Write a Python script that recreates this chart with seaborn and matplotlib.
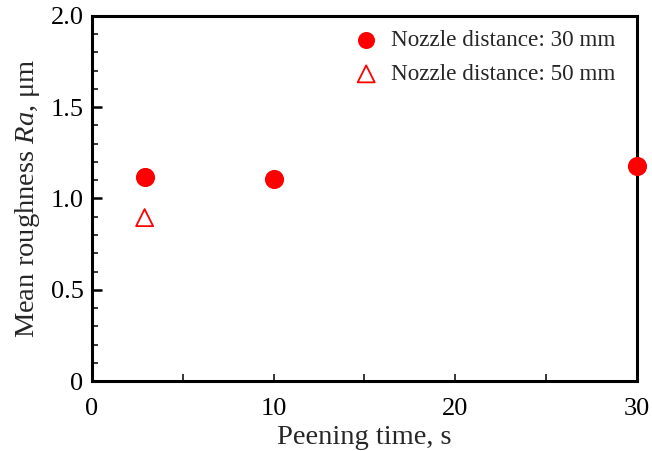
import matplotlib
matplotlib.use("Agg")
import matplotlib.pyplot as plt
from matplotlib.ticker import MultipleLocator, FixedLocator
import seaborn as sns
import pandas as pd

# Peening time (s) and mean roughness Ra (um) for each nozzle distance
time_30mm = [2.9, 10, 30]
ra_30mm = [1.12, 1.105, 1.175]
time_50mm = [2.9]
ra_50mm = [0.895]

label_30mm = "Nozzle distance: 30 mm"
label_50mm = "Nozzle distance: 50 mm"

x_ticks = [0, 10, 20, 30]
y_ticks = [0, 0.5, 1.0, 1.5, 2.0]
y_tick_labels = ["0", "0.5", "1.0", "1.5", "2.0"]

sns.set_theme(style="ticks")
plt.rcParams["font.family"] = ["Liberation Serif", "DejaVu Serif"]
plt.rcParams["mathtext.fontset"] = "custom"
plt.rcParams["mathtext.it"] = "Liberation Serif:italic"
plt.rcParams["mathtext.rm"] = "Liberation Serif"

df30 = pd.DataFrame({"t": time_30mm, "ra": ra_30mm})
df50 = pd.DataFrame({"t": time_50mm, "ra": ra_50mm})

fig, ax = plt.subplots(figsize=(6.52, 4.51), dpi=100)
fig.subplots_adjust(left=0.141, right=0.977, top=0.965, bottom=0.155)

sns.scatterplot(data=df30, x="t", y="ra", ax=ax, marker="o", s=190,
                color="#ff0000", edgecolor="#ff0000", linewidth=0,
                label=label_30mm, clip_on=False, zorder=5)
sns.scatterplot(data=df50, x="t", y="ra", ax=ax, marker="^", s=150,
                facecolor="none", edgecolor="#ff0000", linewidth=1.3,
                label=label_50mm, clip_on=False, zorder=5)

ax.set_xlim(0, 30)
ax.set_ylim(0, 2.0)
ax.xaxis.set_major_locator(FixedLocator(x_ticks))
ax.xaxis.set_minor_locator(MultipleLocator(5))
ax.yaxis.set_major_locator(FixedLocator(y_ticks))
ax.set_yticklabels(y_tick_labels)
ax.yaxis.set_minor_locator(MultipleLocator(0.1))

ax.tick_params(axis="both", which="both", direction="in", top=False, right=False,
               labelsize=19, colors="black")
ax.tick_params(axis="y", which="major", length=7.5, width=1.8, pad=6)
ax.tick_params(axis="y", which="minor", length=4.5, width=1.1)
ax.tick_params(axis="x", which="both", length=5, width=1.1, pad=12.5)

for sp in ax.spines.values():
    sp.set_linewidth(2.2)
    sp.set_color("black")

ax.set_xlabel("Peening time, s", fontsize=20.5, labelpad=3)
ax.set_ylabel("Mean roughness $\\mathit{Ra}$, μm", fontsize=20.5, labelpad=6)

leg = ax.legend(loc="upper right", frameon=False, fontsize=16.7,
                handletextpad=0.05, labelspacing=0.55, borderaxespad=0.2,
                bbox_to_anchor=(0.985, 1.0))
for h in leg.legend_handles:
    h.set_sizes([150])

fig.savefig("out.png", dpi=100, facecolor="white")
